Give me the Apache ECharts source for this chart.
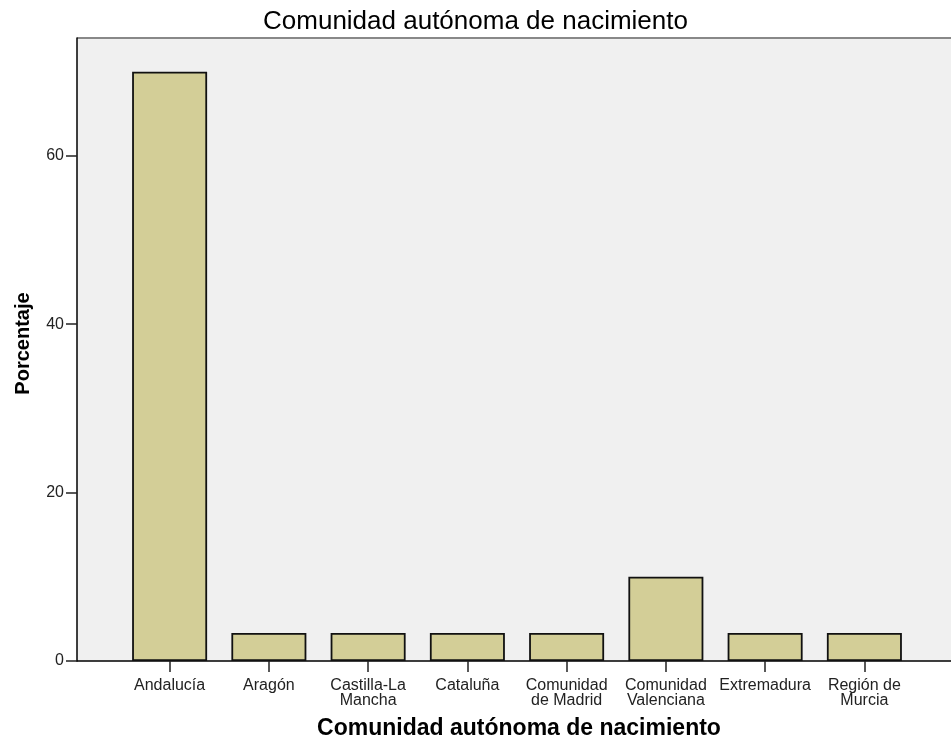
<!DOCTYPE html>
<html>
<head>
<meta charset="utf-8">
<script src="https://cdn.jsdelivr.net/npm/echarts@6/dist/echarts.min.js"></script>
<style>
    html, body {margin: 0; padding: 0; background: #fff;}
    #chart {width: 951px; height: 749px;}
</style>
</head>
<body>
<div id="chart"></div>
<script>
// datos
let categorias = ['Andalucía', 'Aragón', 'Castilla-La\nMancha', 'Cataluña', 'Comunidad\nde Madrid', 'Comunidad\nValenciana', 'Extremadura', 'Región de\nMurcia'];
let porcentajes = [70, 3.33, 3.33, 3.33, 3.33, 10, 3.33, 3.33];
let ticksY = [0, 20, 40, 60];

let fuente = '"Liberation Sans", Arial, sans-serif';
let myChart = echarts.init(document.getElementById('chart'));

myChart.setOption({
    animation: false,
    title: {
        text: 'Comunidad autónoma de nacimiento',
        left: 'center',
        top: 4,
        textStyle: {
            fontFamily: fuente,
            fontSize: 26,
            fontWeight: 'normal',
            color: '#000'
        }
    },
    grid: [
        {
            // area de fondo con el eje y
            left: 77,
            right: 0,
            top: 38,
            bottom: 88,
            show: true,
            backgroundColor: '#f0f0f0',
            borderWidth: 0,
            outerBoundsMode: 'none'
        },
        {
            // area de las barras
            left: 120,
            right: 37,
            top: 38,
            bottom: 88,
            outerBoundsMode: 'none'
        }
    ],
    xAxis: [
        {
            gridIndex: 0,
            type: 'value',
            min: 0,
            max: 1,
            axisLine: {show: true, lineStyle: {color: '#000', width: 1.5}},
            axisTick: {show: false},
            axisLabel: {show: false},
            splitLine: {show: false},
            name: 'Comunidad autónoma de nacimiento',
            nameLocation: 'middle',
            nameGap: 56,
            nameTextStyle: {
                fontFamily: fuente,
                fontSize: 23,
                fontWeight: 'bold',
                color: '#000',
                padding: [0, 0, 0, 10]
            }
        },
        {
            gridIndex: 1,
            type: 'category',
            data: categorias,
            axisLine: {show: false},
            axisTick: {show: true, alignWithLabel: true, length: 11, lineStyle: {color: '#222', width: 1.5}},
            axisLabel: {
                interval: 0,
                margin: 17,
                fontFamily: fuente,
                fontSize: 16,
                lineHeight: 15,
                color: '#222'
            }
        }
    ],
    yAxis: [
        {
            gridIndex: 0,
            type: 'value',
            min: 0,
            max: 74,
            interval: 20,
            axisLine: {show: true, lineStyle: {color: '#000', width: 1.5}},
            axisTick: {show: true, length: 11, customValues: ticksY, lineStyle: {color: '#222', width: 1.5}},
            axisLabel: {
                customValues: ticksY,
                fontFamily: fuente,
                fontSize: 16,
                color: '#222',
                margin: 13
            },
            splitLine: {show: false},
            name: 'Porcentaje',
            nameLocation: 'middle',
            nameGap: 44,
            nameTextStyle: {
                fontFamily: fuente,
                fontSize: 20,
                fontWeight: 'bold',
                color: '#000',
                padding: [0, 0, 0, 12]
            }
        },
        {
            gridIndex: 1,
            type: 'value',
            min: 0,
            max: 74,
            show: false
        }
    ],
    graphic: [
        {
            // linea superior gris del area
            type: 'line',
            shape: {x1: 77, y1: 38, x2: 951, y2: 38},
            style: {stroke: '#888', lineWidth: 2}
        }
    ],
    series: [
        {
            type: 'bar',
            xAxisIndex: 1,
            yAxisIndex: 1,
            data: porcentajes,
            barWidth: 75,
            itemStyle: {
                color: '#d3ce97',
                borderColor: '#111',
                borderWidth: 1.8
            }
        }
    ]
});
</script>
</body>
</html>
